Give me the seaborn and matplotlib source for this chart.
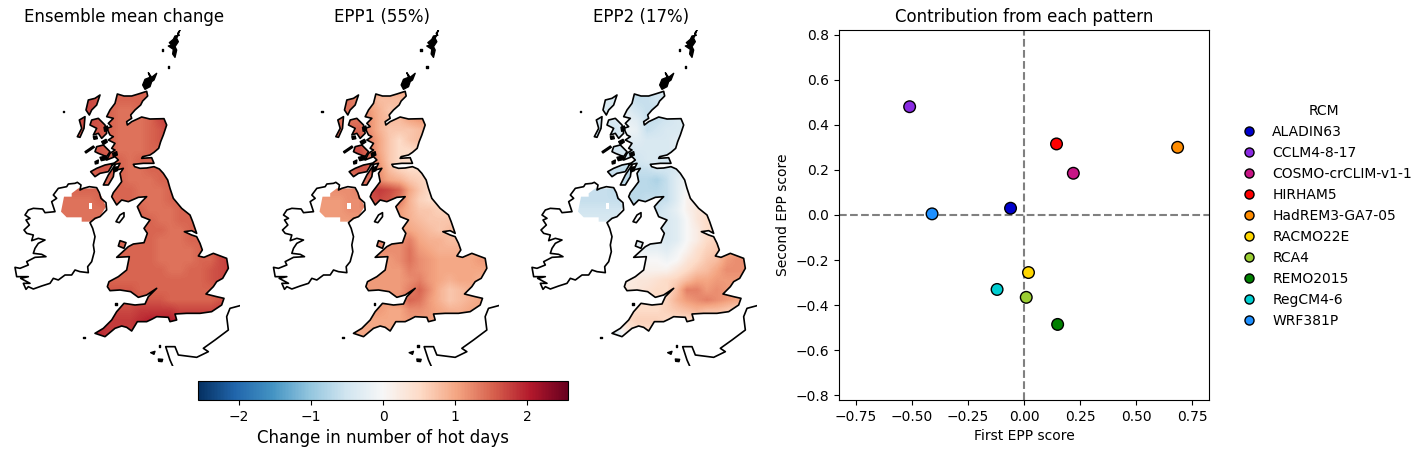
import matplotlib
matplotlib.use('Agg')
import numpy as np
import pandas as pd
import seaborn as sns
import matplotlib.pyplot as plt
from matplotlib.path import Path
from matplotlib.patches import PathPatch, Polygon
from matplotlib.cm import ScalarMappable
from matplotlib.colors import Normalize

# scatter panel
rcms = ['ALADIN63', 'CCLM4-8-17', 'COSMO-crCLIM-v1-1', 'HIRHAM5', 'HadREM3-GA7-05',
        'RACMO22E', 'RCA4', 'REMO2015', 'RegCM4-6', 'WRF381P']
epp1_score = [-0.06, -0.51, 0.22, 0.145, 0.685, 0.02, 0.01, 0.15, -0.12, -0.41]
epp2_score = [0.03, 0.48, 0.185, 0.315, 0.30, -0.255, -0.365, -0.485, -0.33, 0.005]
rcm_colours = ['mediumblue', 'blueviolet', 'mediumvioletred', 'red', 'darkorange',
               'gold', 'yellowgreen', 'green', 'darkturquoise', 'dodgerblue']

# coastlines, x and y in map units
great_britain = [(352,222),(372,228),(395,228),(415,222),(440,214),(443,228),(428,243),(422,255),
    (405,270),(392,285),(395,295),(380,305),(382,315),(395,305),(410,298),(425,291),(450,297),(492,296),
    (500,315),(490,345),(482,365),(476,385),(462,397),(450,405),(428,410),(425,415),(455,413),(462,430),
    (430,430),(400,433),(404,440),(420,445),(440,444),(462,440),(478,447),(490,460),(503,480),(510,505),
    (520,535),(545,565),(570,585),(578,605),(590,640),(575,632),(553,635),(575,645),(590,650),(600,670),
    (607,690),(595,708),(612,712),(640,700),(680,715),(685,745),(668,775),(650,785),(640,800),(618,822),
    (650,830),(672,835),(665,855),(635,875),(600,880),(560,880),(525,882),(530,900),(510,905),(505,892),
    (470,890),(455,898),(440,905),(412,905),(395,933),(380,922),(365,918),(345,925),(315,950),(285,940),
    (310,925),(335,900),(350,875),(372,850),(405,855),(435,852),(445,830),(470,805),(440,825),(415,832),
    (392,815),(360,810),(330,812),(322,800),(327,785),(355,770),(380,750),(388,710),(350,712),(385,680),
    (400,672),(432,668),(442,640),(432,625),(450,600),(425,590),(412,560),(425,545),(440,530),(415,532),
    (385,545),(365,540),(350,555),(335,530),(340,518),(350,505),(365,485),(360,460),(370,445),(350,450),
    (360,430),(335,435),(355,420),(345,410),(320,420),(330,400),(345,390),(335,385),(345,370),(325,360),
    (340,350),(330,345),(320,325),(335,320),(325,310),(340,295),(320,290),(330,270),(345,250)]
ireland = [(232,487),(243,495),(240,510),(250,505),(268,500),(290,503),(298,518),(303,535),(318,548),
    (320,570),(305,585),(300,590),(285,595),(270,608),(278,625),(285,650),(280,675),(283,695),(275,725),
    (263,740),(265,758),(240,755),(225,750),(215,765),(195,765),(175,780),(160,775),(150,790),(125,798),
    (100,807),(85,800),(78,808),(70,790),(90,790),(62,775),(85,770),(50,770),(45,742),(60,745),(85,735),
    (80,725),(105,712),(138,710),(125,703),(100,700),(105,685),(115,670),(135,660),(115,655),(95,662),
    (100,645),(80,640),(72,630),(88,615),(78,600),(90,595),(75,585),(85,570),(100,565),(128,567),(135,578),
    (165,575),(155,545),(170,535),(160,525),(175,505),(200,500),(205,492),(225,490)]
france = [(720,857),(690,865),(680,890),(685,930),(645,960),(610,985),(625,995),(590,1012),(535,1005),
    (525,980),(497,980),(510,1020),(518,1038)]
land_islands = [
    [(300,225),(285,235),(265,240),(258,270),(268,285),(275,270),(290,255)],
    [(255,290),(238,300),(245,325),(232,350),(240,352),(252,325)],
    [(275,300),(295,295),(315,315),(320,340),(305,355),(295,340),(280,345),(290,325),(270,315)],
    [(290,380),(310,375),(330,395),(320,410),(295,400),(285,395)],
    [(315,435),(340,430),(325,455),(300,460),(285,470),(272,455),(290,445)],
    [(310,495),(325,465),(345,435),(340,470),(325,495)],
    [(360,662),(378,668),(372,685),(355,678)],
]
outline_islands = [
    [(372,578),(360,585),(348,605),(358,608),(372,590)],
]
black_islands = [
    [(540,30),(533,40),(538,46),(525,48),(520,58),(508,68),(515,75),(505,78),(520,88),(518,102),(525,112),
     (530,90),(525,80),(535,65),(530,55)],
    [(470,160),(455,172),(445,158),(450,172),(435,178),(428,195),(435,208),(450,200),(455,185),(462,180)],
    [(255,395),(280,378),(283,382),(258,399)],
    [(188,272),(192,272),(192,276),(188,276)],
    [(485,88),(490,88),(490,93),(485,93)],
    [(503,139),(508,139),(508,144),(503,144)],
    [(250,950),(255,950),(255,955),(250,955)],
    [(452,998),(465,994),(462,1003)],
    [(475,1017),(488,1018),(486,1025),(476,1024)],
    [(476,976),(481,976),(481,981),(476,981)],
    [(280,350),(290,348),(292,356),(282,358)],
    [(285,425),(295,420),(294,430),(286,432)],
    [(345,850),(350,850),(350,855),(345,855)],
    [(305,365),(318,358),(322,366),(310,374)],
    [(300,412),(318,408),(322,418),(304,422)],
    [(338,400),(350,395),(352,405),(340,410)],
    [(340,445),(352,440),(352,452),(342,456)],
    [(312,322),(322,318),(324,330),(314,334)],
]
northern_ireland = [(215,530),(192,530),(183,575),(200,592),(245,592),(245,605),(275,605),(300,590),
    (318,560),(305,530),(290,505),(235,505),(215,520)]
ni_gap = [(266,549),(276,549),(276,568),(266,568)]

# cell centres of the value grids, map units
grid_x = [180, 210, 240, 270, 300, 330, 360, 390, 420, 450, 480, 510, 540, 570, 600, 630, 660, 690]
grid_y = [210, 240, 270, 300, 330, 360, 390, 420, 450, 480, 510, 540, 570, 600, 630, 660, 690,
          720, 750, 780, 810, 840, 870, 900, 930, 960]

# values in tenths of a hot day
mean_change = [
    [16,16,16,16,16,15,15,15,15,15,15,15,15,15,15,15,15,15],
    [17,17,17,17,16,15,15,15,15,15,15,15,15,15,15,15,15,15],
    [17,17,17,17,16,15,14,14,15,15,15,15,15,15,15,15,15,15],
    [17,17,17,17,16,15,14,14,14,15,17,18,18,18,18,18,18,18],
    [16,16,16,16,16,15,14,14,14,15,16,18,18,18,18,18,18,18],
    [16,16,16,16,16,15,14,14,14,15,16,17,17,17,17,17,17,17],
    [16,16,16,16,16,15,14,14,14,15,15,16,16,16,16,16,16,16],
    [16,16,16,16,17,16,15,14,15,15,15,15,15,15,15,15,15,15],
    [15,15,15,15,16,16,15,14,14,15,15,15,15,15,15,15,15,15],
    [15,15,15,15,15,15,15,14,14,14,15,15,15,15,15,15,15,15],
    [15,15,15,15,15,15,15,15,14,14,14,15,15,15,15,15,15,15],
    [14,14,14,14,15,15,15,15,14,14,14,15,15,15,15,15,15,15],
    [14,14,14,14,14,15,15,15,15,14,14,14,15,15,15,15,15,15],
    [14,14,14,14,14,15,15,15,15,15,14,14,15,15,16,16,16,16],
    [14,14,14,14,14,15,15,15,15,15,15,14,14,15,15,16,16,16],
    [15,15,15,15,15,16,15,15,15,15,14,14,14,15,15,15,16,16],
    [15,15,15,15,15,15,15,15,15,15,14,14,14,14,15,15,17,17],
    [15,15,15,15,15,15,15,15,15,15,14,14,14,14,15,15,17,18],
    [15,15,15,15,15,15,15,15,15,15,15,14,14,15,15,16,17,18],
    [15,15,15,15,15,15,15,15,15,15,15,15,15,15,15,16,17,18],
    [16,16,16,16,16,16,16,16,15,15,15,15,15,15,15,15,16,17],
    [16,16,16,16,16,16,16,16,16,16,16,15,15,15,15,15,16,16],
    [17,17,17,17,17,17,17,17,18,18,18,18,17,17,17,17,18,18],
    [19,19,19,19,18,18,18,18,19,20,20,20,19,19,19,19,19,19],
    [20,20,20,20,19,18,18,18,19,19,19,19,19,19,19,19,19,19],
    [21,21,21,21,20,18,18,18,19,19,19,19,19,19,19,19,19,19],
]
epp1_pattern = [
    [14,14,14,14,12,11,10,10,10,10,10,10,10,10,10,10,10,10],
    [14,14,14,14,12,10, 8, 8, 8, 9, 9, 9, 9, 9, 9, 9, 9, 9],
    [14,14,14,14,13,11, 9, 7, 8, 9, 9, 9, 9, 9, 9, 9, 9, 9],
    [14,14,14,14,14,12, 9, 8, 8,10,11,11,11,11,11,11,11,11],
    [15,15,15,15,15,12, 9, 7, 7, 7, 8, 9, 9, 9, 9, 9, 9, 9],
    [16,16,16,16,16,13,10, 7, 5, 7, 8, 8, 8, 8, 8, 8, 8, 8],
    [17,17,17,17,17,14,10, 7, 5, 5, 6, 6, 6, 6, 6, 6, 6, 6],
    [16,16,16,16,17,15,11, 7, 5, 5, 5, 5, 5, 5, 5, 5, 5, 5],
    [15,15,15,15,16,16,12, 8, 6, 5, 5, 5, 5, 5, 5, 5, 5, 5],
    [13,13,13,13,14,14,12,10, 9, 7, 6, 5, 5, 5, 5, 5, 5, 5],
    [12,12,12,12,13,17,18,17,15,10, 7, 5, 5, 5, 5, 5, 5, 5],
    [11,11,11,12,12,16,17,16,14, 9, 6, 5, 5, 5, 5, 5, 5, 5],
    [11,11,11,12,12,13,13,12,11, 9, 7, 7, 6, 6, 6, 6, 6, 6],
    [11,11,11,11,11,11,11,11,11, 9, 8, 7, 7, 7, 7, 7, 7, 7],
    [11,11,11,11,11,12,13,13,11,10, 9, 8, 7, 8, 7, 7, 7, 7],
    [11,11,11,11,12,14,13,12,12,13,10, 9, 9, 8, 8, 8, 8, 8],
    [11,11,11,11,12,13,12,12,12,14,11,10, 9, 9, 9, 9, 9, 9],
    [11,11,11,11,11,11,11,11,12,14,12,11,10,10,10,10,11,11],
    [11,11,11,11,11,11,11,11,11,13,12,11,10,10,10,10,10,10],
    [11,11,11,11,11,11,11,11,11,12,13,11,10, 9,10,10, 9, 9],
    [11,11,11,11,11,11,11,11,11,13,15,12, 9, 7, 8, 9, 9, 9],
    [11,11,11,11,11,11,11,11,12,15,14,11, 9, 7, 8, 9,10,10],
    [11,11,11,11,11,11,11,10,10,12,12,11,10, 9, 9,10,10,10],
    [11,11,11,11,10,10,10,10,10,11,11,11,10,10,10,10,10,10],
    [11,11,11,11,10,10,10,10,10,10,10,10,10,10,10,10,10,10],
    [11,11,11,11,10,10,10,10,10,10,10,10,10,10,10,10,10,10],
]
epp2_pattern = [
    [-4,-4,-4,-4,-4,-6,-7,-6,-5,-4,-4,-4,-4,-4,-4,-4,-4,-4],
    [-4,-4,-4,-4,-4,-5,-6,-6,-5,-4,-4,-4,-4,-4,-4,-4,-4,-4],
    [-4,-4,-4,-4,-4,-3,-5,-6,-6,-5,-4,-4,-4,-4,-4,-4,-4,-4],
    [-4,-4,-4,-4,-4,-2,-3,-6,-6,-5,-4,-4,-4,-4,-4,-4,-4,-4],
    [-5,-5,-5,-5,-5,-1,-2,-6,-5,-4,-4,-4,-4,-4,-4,-4,-4,-4],
    [-5,-5,-5,-5,-5,-3,-3,-4,-4,-4,-3,-3,-3,-3,-3,-3,-3,-3],
    [-5,-5,-5,-5,-5,-5,-4,-4,-4,-4,-3,-3,-3,-3,-3,-3,-3,-3],
    [-5,-5,-5,-5,-5,-5,-5,-4,-4,-5,-4,-3,-3,-3,-3,-3,-3,-3],
    [-6,-6,-6,-6,-6,-7,-6,-6,-5,-5,-4,-3,-3,-3,-3,-3,-3,-3],
    [-6,-6,-6,-6,-6,-7,-7,-7,-8,-6,-3,-1,-1,-1,-1,-1,-1,-1],
    [-6,-6,-6,-6,-7,-7,-7,-7,-7,-6,-3, 0, 0, 0, 0, 0, 0, 0],
    [-6,-6,-6,-6,-6,-7,-7,-6,-6,-6,-3, 1, 2, 2, 2, 2, 2, 2],
    [-5,-5,-5,-5,-5,-5,-5,-6,-6,-4,-2, 1, 3, 4, 4, 4, 4, 4],
    [-4,-4,-4,-4,-4,-4,-4,-4,-4,-4,-3, 0, 3, 5, 5, 5, 5, 5],
    [-4,-4,-4,-4,-4,-4,-4,-4,-4,-4,-3, 0, 2, 5, 5, 5, 5, 5],
    [-3,-3,-3,-3,-3,-4,-3,-3,-3,-4,-3, 0, 2, 5, 6, 6, 6, 6],
    [-1,-1,-1,-1,-1,-1,-1,-2,-2,-3,-1, 1, 4, 6, 7, 9,10,10],
    [ 0, 0, 0, 0, 0, 0, 0, 0, 0,-1, 0, 3, 5, 7, 8,11,12,12],
    [ 1, 1, 1, 1, 1, 1, 1, 1, 1, 1, 3, 5, 7, 8,10,12,12,12],
    [ 1, 1, 1, 1, 1, 2, 3, 3, 4, 5, 6, 8,10,10,11,11,11,11],
    [ 3, 3, 3, 3, 3, 3, 3, 4, 5, 5, 8,13,13,11,12,11,10,10],
    [ 4, 4, 4, 4, 4, 4, 4, 4, 5, 6, 9,11,12,13,12,11,10,10],
    [ 4, 4, 4, 4, 4, 5, 5, 5, 5, 6, 7, 8, 9, 8, 8, 7, 6, 6],
    [ 4, 4, 4, 4, 3, 5, 6, 6, 6, 5, 5, 5, 5, 5, 5, 5, 5, 5],
    [-4,-4,-4,-4,-2, 3, 5, 5, 5, 4, 4, 4, 4, 4, 4, 4, 4, 4],
    [-4,-4,-4,-4,-4, 0, 3, 4, 4, 4, 4, 4, 4, 4, 4, 4, 4, 4],
]

panel_titles = ['Ensemble mean change', 'EPP1 (55%)', 'EPP2 (17%)']
panel_fields = [mean_change, epp1_pattern, epp2_pattern]
panel_shift = [0, 258.5, 517]
colour_limit = 2.57
fig_w, fig_h = 1427, 454


def axes_from_pixels(fig, left, top, right, bottom):
    return fig.add_axes([left / fig_w, 1 - bottom / fig_h,
                         (right - left) / fig_w, (bottom - top) / fig_h])


def closed_path(poly):
    return Path(list(poly) + [poly[0]], closed=True)


def draw_map(ax, field, title, norm):
    values = np.array(field) / 10
    extent = (grid_x[0] - 15, grid_x[-1] + 15, grid_y[-1] + 15, grid_y[0] - 15)
    im = ax.imshow(values, cmap='RdBu_r', norm=norm, extent=extent, aspect='auto',
                   interpolation='bilinear')
    land = Path.make_compound_path(*[closed_path(p) for p in
                                     [great_britain, northern_ireland] + land_islands])
    im.set_clip_path(PathPatch(land, transform=ax.transData))
    ax.add_patch(Polygon(ni_gap, color='white', lw=0))

    for poly in [great_britain, ireland] + land_islands + outline_islands:
        ax.add_patch(Polygon(poly, fill=False, edgecolor='black', lw=1.2, joinstyle='round'))
    for poly in black_islands:
        ax.add_patch(Polygon(poly, facecolor='black', edgecolor='black', lw=1, joinstyle='round'))
    ax.plot(*zip(*france), color='black', lw=1.2)

    ax.set_xlim(24, 720)
    ax.set_ylim(1038, 30)
    ax.axis('off')
    ax.set_title(title, fontsize=12, pad=6)


fig = plt.figure(figsize=(fig_w / 100, fig_h / 100), dpi=100)
norm = Normalize(-colour_limit, colour_limit)

for field, title, shift in zip(panel_fields, panel_titles, panel_shift):
    ax = axes_from_pixels(fig, 8 + shift, 30, 240 + shift, 366)
    draw_map(ax, field, title, norm)

cax = axes_from_pixels(fig, 198, 381, 568, 400)
cbar = fig.colorbar(ScalarMappable(norm=norm, cmap='RdBu_r'), cax=cax, orientation='horizontal')
cbar.set_ticks([-2, -1, 0, 1, 2])
cbar.set_label('Change in number of hot days', fontsize=12)

scores = pd.DataFrame({'RCM': rcms, 'first': epp1_score, 'second': epp2_score})
ax = axes_from_pixels(fig, 839, 30, 1209, 400)
ax.axhline(0, color='grey', ls='--', lw=1.5, zorder=1)
ax.axvline(0, color='grey', ls='--', lw=1.5, zorder=1)
sns.scatterplot(data=scores, x='first', y='second', hue='RCM', palette=rcm_colours, s=70,
                edgecolor='black', linewidth=1, ax=ax, zorder=3)
ax.set_xlim(-0.825, 0.825)
ax.set_ylim(-0.82, 0.82)
ax.set_xticks([-0.75, -0.5, -0.25, 0, 0.25, 0.5, 0.75])
ax.set_yticks([-0.8, -0.6, -0.4, -0.2, 0, 0.2, 0.4, 0.6, 0.8])
ax.set_xlabel('First EPP score')
ax.set_ylabel('Second EPP score')
ax.set_title('Contribution from each pattern', fontsize=12, pad=6)
ax.legend(title='RCM', frameon=False, loc='center left', bbox_to_anchor=(1.038, 0.497),
          labelspacing=0.5, markerscale=0.78, handletextpad=0.65)

fig.savefig('out.png', dpi=100)
